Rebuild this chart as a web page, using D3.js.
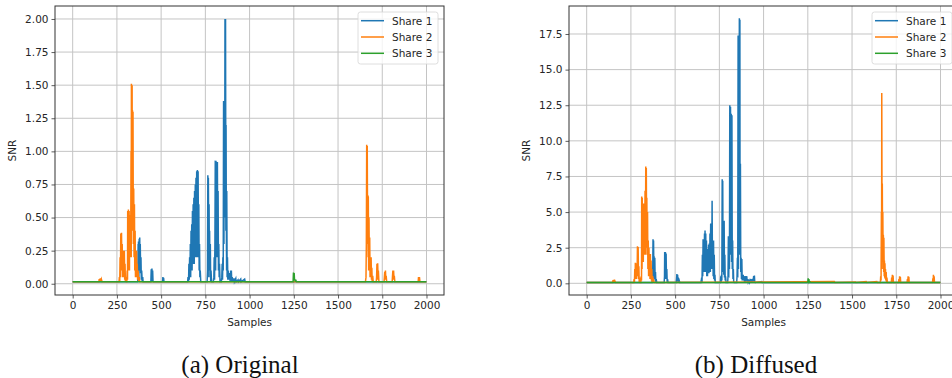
<!DOCTYPE html>
<html>
<head>
<meta charset="utf-8">
<script src="https://cdn.jsdelivr.net/npm/d3@7"></script>
<style>
  html, body { margin: 0; padding: 0; background: #fff; }
  svg { display: block; }
  .tick text { font-family: "DejaVu Sans", sans-serif; font-size: 10.5px; fill: #262626; }
</style>
</head>
<body>
<svg id="chart" width="952" height="378"></svg>
<script>
// ---- data (sample index, SNR) ----
var b = 0.015;  // baseline, original
var B = 0.06;   // baseline, diffused

var share1Orig = [[0,b],[368,b],
  [370,0.30],[371,0.02],[372,0.32],[374,0.05],[376,0.34],[377,0.1],[379,0.35],[380,0.15],[382,0.30],[384,0.08],[386,0.2],[388,0.03],[390,0.1],[393,0.02],[396,0.05],[398,b],
  [442,b],[444,0.11],[446,0.02],[448,0.115],[450,0.03],[452,0.1],[454,0.02],[456,b],
  [508,b],[510,0.05],[512,0.02],[514,0.045],[516,b],
  [650,b],[652,0.05],[655,0.02],[657,0.15],[659,0.03],[661,0.2],[663,0.05],[665,0.3],[667,0.05],[669,0.4],[671,0.1],[673,0.45],[675,0.1],[677,0.55],[679,0.15],[681,0.6],[683,0.2],[685,0.65],[687,0.15],[689,0.7],[691,0.2],[693,0.75],[695,0.3],[697,0.8],[699,0.2],[701,0.85],[703,0.3],[705,0.86],[707,0.2],[709,0.85],[711,0.3],[713,0.6],[715,0.1],[717,0.3],[719,0.05],[721,0.1],[724,b],
  [760,b],[762,0.1],[764,0.82],[766,0.05],[767,0.8],[769,0.3],[771,0.6],[773,0.1],[774,0.4],[776,0.05],[778,0.3],[780,0.02],[782,0.1],[785,b],
  [795,b],[798,0.05],[800,0.2],[802,0.03],[804,0.3],[806,0.93],[808,0.1],[810,0.93],[812,0.2],[814,0.92],[816,0.3],[818,0.92],[820,0.2],[822,0.7],[824,0.1],[826,0.3],[828,0.05],[830,0.15],[833,b],
  [840,b],[843,0.05],[845,0.15],[847,0.03],[849,0.2],[851,0.1],[853,1.38],[855,0.3],[857,1.38],[859,0.5],[861,2.0],[863,1.0],[864,2.0],[866,0.4],[867,1.2],[868,0.7],[870,0.1],[871,0.7],[873,0.05],[875,0.2],[877,0.03],[879,0.1],[881,0.05],[883,0.08],[885,0.03],[888,0.08],[890,0.02],[893,0.1],[895,0.03],[897,0.1],[899,0.02],[902,0.05],[905,b],
  [912,0.04],[914,b],[922,0.04],[924,b],[935,0.03],[937,b],[950,0.035],[952,b],[972,0.035],[975,b],[1999,b]];

var share2Orig = [[0,b],[148,b],[150,0.035],[153,0.02],[156,0.04],[159,0.02],[162,0.035],[166,b],
  [262,b],[264,0.05],[266,0.02],[268,0.2],[270,0.05],[272,0.38],[274,0.1],[276,0.385],[278,0.15],[280,0.3],[282,0.05],[284,0.25],[286,0.1],[288,0.25],[290,0.05],[292,0.25],[294,0.03],[296,0.15],[298,0.02],[300,0.05],[303,b],
  [306,b],[308,0.1],[310,0.03],[311,0.55],[313,0.1],[315,0.56],[317,0.2],[319,0.55],[321,0.1],[322,0.52],[324,0.2],[326,0.52],[328,0.3],[330,1.0],[331,0.2],[332,1.51],[334,0.5],[336,1.5],[337,0.4],[338,1.31],[340,0.5],[341,1.3],[343,0.3],[345,0.72],[347,0.2],[349,0.6],[351,0.1],[353,0.4],[355,0.05],[357,0.25],[359,0.1],[361,0.25],[363,0.05],[365,0.15],[367,0.03],[370,0.1],[373,0.02],[376,0.05],[379,b],
  [1655,b],[1658,0.05],[1660,0.3],[1662,1.05],[1664,0.3],[1665,1.04],[1667,0.4],[1668,0.67],[1670,0.2],[1671,0.66],[1673,0.1],[1675,0.5],[1677,0.1],[1679,0.35],[1681,0.05],[1683,0.2],[1685,0.05],[1687,0.2],[1689,0.03],[1691,0.12],[1693,0.02],[1696,0.06],[1699,b],
  [1716,b],[1718,0.05],[1720,0.15],[1722,0.03],[1724,0.155],[1726,0.05],[1728,0.1],[1731,b],
  [1760,b],[1762,0.05],[1764,0.09],[1766,0.03],[1768,0.1],[1770,0.03],[1772,0.06],[1775,b],
  [1806,b],[1808,0.06],[1810,0.1],[1812,0.03],[1814,0.1],[1816,0.04],[1818,0.06],[1821,b],
  [1953,b],[1955,0.05],[1958,0.02],[1960,0.05],[1963,b],[1999,b]];

var share3Orig = [[0,b],[1246,b],[1248,0.085],[1250,0.03],[1252,0.08],[1254,0.03],[1256,0.03],[1258,0.02],[1262,0.025],[1265,b],[1999,b]];

var share1Diff = [[0,B],[370,B],
  [372,0.5],[373,0.2],[375,3.1],[377,0.5],[378,3.0],[380,0.4],[381,1.9],[383,0.3],[385,1.8],[387,0.2],[389,0.8],[391,0.1],[393,0.3],[396,B],
  [438,B],[440,0.5],[441,2.2],[443,0.3],[445,2.2],[447,0.5],[449,2.1],[451,0.3],[453,1.0],[455,0.1],[457,0.3],[460,B],
  [506,B],[508,0.3],[510,0.65],[512,0.2],[514,0.6],[516,0.1],[518,0.4],[520,0.1],[523,0.2],[526,B],
  [646,B],[648,0.2],[650,0.4],[652,0.1],[654,2.0],[656,0.5],[658,3.1],[660,0.8],[662,3.0],[664,1.0],[666,3.5],[668,0.8],[669,3.7],[671,1.0],[673,3.5],[675,0.8],[677,3.0],[679,0.5],[681,2.3],[683,0.5],[685,2.4],[687,0.8],[689,2.7],[691,0.7],[693,2.8],[695,1.0],[697,3.5],[699,0.8],[701,4.2],[703,1.0],[705,4.2],[707,1.5],[709,5.8],[711,1.0],[713,3.0],[715,0.5],[717,3.0],[719,0.3],[721,2.0],[723,0.2],[725,0.6],[727,B],
  [756,B],[758,0.5],[760,0.1],[762,0.6],[764,0.2],[766,7.3],[768,1.0],[769,7.2],[771,0.8],[773,4.0],[775,0.6],[777,4.4],[779,0.4],[781,2.0],[783,0.2],[785,0.5],[788,B],
  [797,B],[799,0.5],[801,3.3],[803,0.4],[805,3.3],[807,1.0],[809,12.5],[811,2.0],[813,12.4],[815,2.0],[817,11.9],[819,1.5],[821,11.8],[823,1.0],[825,3.0],[827,0.3],[829,1.0],[831,0.1],[834,B],
  [848,B],[850,0.5],[852,1.8],[854,0.4],[856,17.4],[858,1.0],[859,17.3],[861,2.0],[863,18.6],[864,3.0],[866,18.5],[867,2.0],[869,8.4],[871,0.8],[873,1.8],[875,0.3],[877,1.7],[879,0.2],[881,0.6],[883,0.2],[885,0.6],[887,0.2],[890,0.5],[892,0.1],[895,0.5],[897,0.1],[900,0.5],[902,0.2],[905,0.5],[907,0.1],[910,0.3],[913,B],
  [918,0.2],[921,B],[928,0.3],[931,B],[938,0.3],[940,B],[944,0.5],[946,0.2],[948,0.55],[950,0.1],[953,B],[990,0.12],[992,B],[1999,B]];

var share2Diff = [[0,B],[146,B],[148,0.2],[150,0.05],[152,0.25],[154,0.1],[156,0.25],[158,0.05],[160,0.15],[163,B],
  [266,B],[268,0.3],[270,0.1],[272,1.0],[274,0.3],[275,1.45],[277,0.5],[279,1.4],[281,0.3],[283,1.0],[285,0.5],[287,2.6],[289,0.8],[291,2.55],[293,0.3],[295,1.2],[297,0.1],[299,0.4],[302,B],
  [306,B],[308,0.5],[310,0.2],[311,6.1],[313,1.0],[314,6.0],[316,2.0],[318,5.5],[320,1.5],[322,5.6],[324,2.0],[326,5.6],[328,3.0],[330,6.5],[332,2.0],[334,8.2],[336,3.0],[337,8.1],[339,2.5],[340,6.0],[342,2.0],[344,5.0],[346,1.0],[348,3.0],[350,0.5],[352,2.5],[354,0.5],[356,2.0],[358,0.3],[360,2.05],[362,0.3],[364,1.6],[366,0.2],[368,1.0],[370,0.1],[373,0.5],[376,0.1],[379,0.2],[382,B],
  [1400,0.12],[1403,B],[1520,0.1],[1523,B],[1580,0.12],[1583,B],[1640,0.12],[1643,B],
  [1660,B],[1662,0.5],[1664,0.2],[1666,5.0],[1667,1.0],[1668,13.35],[1670,3.0],[1671,7.0],[1673,1.5],[1674,5.0],[1676,1.0],[1677,3.4],[1679,0.8],[1680,3.2],[1682,0.5],[1683,1.6],[1685,0.4],[1686,1.4],[1688,0.3],[1689,1.0],[1691,0.2],[1693,0.8],[1695,0.1],[1697,0.4],[1700,B],
  [1722,B],[1724,0.4],[1726,0.1],[1728,0.6],[1730,0.2],[1732,0.55],[1734,B],
  [1763,B],[1765,0.3],[1767,0.1],[1769,0.5],[1771,0.15],[1773,0.45],[1775,B],
  [1811,B],[1813,0.3],[1815,0.1],[1817,0.5],[1819,0.15],[1821,0.45],[1823,B],
  [1955,B],[1957,0.35],[1959,0.1],[1960,0.6],[1962,0.2],[1964,0.5],[1966,B],[1999,B]];

var share3Diff = [[0,B],[1250,B],[1252,0.35],[1254,0.1],[1256,0.3],[1258,0.1],[1260,0.15],[1263,0.1],[1266,B],[1999,B]];

var seriesNames = ["Share 1", "Share 2", "Share 3"];
var colors = ["#1f77b4", "#ff7f0e", "#2ca02c"];
var xTicks = [0, 250, 500, 750, 1000, 1250, 1500, 1750, 2000];
var yTicksOrig = [0, 0.25, 0.5, 0.75, 1.0, 1.25, 1.5, 1.75, 2.0];
var yTicksDiff = [0, 2.5, 5.0, 7.5, 10.0, 12.5, 15.0, 17.5];
var captions = ["(a) Original", "(b) Diffused"];

var svg = d3.select("#chart");

function drawPanel(opt) {
  var x = d3.scaleLinear().domain([-99.95, 2098.95]).range([opt.left, opt.right]);
  var y = d3.scaleLinear().domain(opt.yDomain).range([opt.bottom, opt.top]);
  var g = svg.append("g");

  var clipId = "clip" + opt.id;
  svg.append("clipPath").attr("id", clipId)
    .append("rect").attr("x", opt.left).attr("y", opt.top)
    .attr("width", opt.right - opt.left).attr("height", opt.bottom - opt.top);

  // grid
  g.selectAll(".gx").data(xTicks).enter().append("line")
    .attr("x1", d => x(d)).attr("x2", d => x(d))
    .attr("y1", opt.top).attr("y2", opt.bottom)
    .attr("stroke", "#c4c4c4").attr("stroke-width", 1);
  g.selectAll(".gy").data(opt.yTicks).enter().append("line")
    .attr("x1", opt.left).attr("x2", opt.right)
    .attr("y1", d => y(d)).attr("y2", d => y(d))
    .attr("stroke", "#c4c4c4").attr("stroke-width", 1);

  // lines
  var line = d3.line().x(d => x(d[0])).y(d => y(d[1]));
  var plot = g.append("g").attr("clip-path", "url(#" + clipId + ")");
  opt.series.forEach(function(s, i) {
    plot.append("path").datum(s)
      .attr("fill", "none")
      .attr("stroke", colors[i])
      .attr("stroke-width", 1.5)
      .attr("stroke-linejoin", "miter")
      .attr("d", line);
  });

  // axes
  var xa = g.append("g").attr("transform", "translate(0," + opt.bottom + ")")
    .call(d3.axisBottom(x).tickValues(xTicks).tickSize(3.5).tickPadding(3).tickFormat(d3.format("d")));
  var ya = g.append("g").attr("transform", "translate(" + opt.left + ",0)")
    .call(d3.axisLeft(y).tickValues(opt.yTicks).tickSize(3.5).tickPadding(3).tickFormat(d3.format(opt.fmt)));
  [xa, ya].forEach(function(a) {
    a.select(".domain").remove();
    a.selectAll(".tick line").attr("stroke", "#333").attr("stroke-width", 0.8);
  });

  // frame
  g.append("rect").attr("x", opt.left).attr("y", opt.top)
    .attr("width", opt.right - opt.left).attr("height", opt.bottom - opt.top)
    .attr("fill", "none").attr("stroke", "#333").attr("stroke-width", 1);

  g.append("text")
    .attr("x", (x(0) + x(2000)) / 2).attr("y", opt.bottom + 31)
    .attr("text-anchor", "middle")
    .style("font-family", "DejaVu Sans, sans-serif").style("font-size", "10.5px").style("fill", "#262626")
    .text("Samples");
  g.append("text")
    .attr("transform", "translate(" + (opt.left - 39) + "," + ((opt.top + opt.bottom) / 2) + ") rotate(-90)")
    .attr("text-anchor", "middle")
    .style("font-family", "DejaVu Sans, sans-serif").style("font-size", "10.5px").style("fill", "#262626")
    .text("SNR");

  // legend
  var lg = g.append("g").attr("transform", "translate(" + opt.legendX + "," + (opt.top + 6) + ")");
  lg.append("rect").attr("x", 0).attr("y", 0).attr("width", 80).attr("height", 52)
    .attr("rx", 2.5).attr("fill", "#fff").attr("fill-opacity", 0.8)
    .attr("stroke", "#d6d6d6").attr("stroke-width", 0.8);
  seriesNames.forEach(function(n, i) {
    var yy = 8.7 + i * 16.3;
    lg.append("line").attr("x1", 3).attr("x2", 26).attr("y1", yy).attr("y2", yy)
      .attr("stroke", colors[i]).attr("stroke-width", 1.5);
    lg.append("text").attr("x", 34).attr("y", yy + 3.8)
      .style("font-family", "DejaVu Sans, sans-serif").style("font-size", "10.5px").style("fill", "#262626")
      .text(n);
  });

  svg.append("text")
    .attr("x", opt.captionX).attr("y", 373)
    .attr("text-anchor", "middle")
    .style("font-family", "Liberation Serif, serif").style("font-size", "25px").style("fill", "#111")
    .text(opt.caption);
}

drawPanel({
  id: 1, left: 55, right: 444, top: 6, bottom: 295,
  yDomain: [-0.085, 2.098], yTicks: yTicksOrig, fmt: ".2f",
  series: [share1Orig, share2Orig, share3Orig],
  legendX: 358, caption: captions[0], captionX: 240
});

drawPanel({
  id: 2, left: 569, right: 958, top: 6, bottom: 295,
  yDomain: [-0.82, 19.465], yTicks: yTicksDiff, fmt: ".1f",
  series: [share1Diff, share2Diff, share3Diff],
  legendX: 872, caption: captions[1], captionX: 756
});
</script>
</body>
</html>
